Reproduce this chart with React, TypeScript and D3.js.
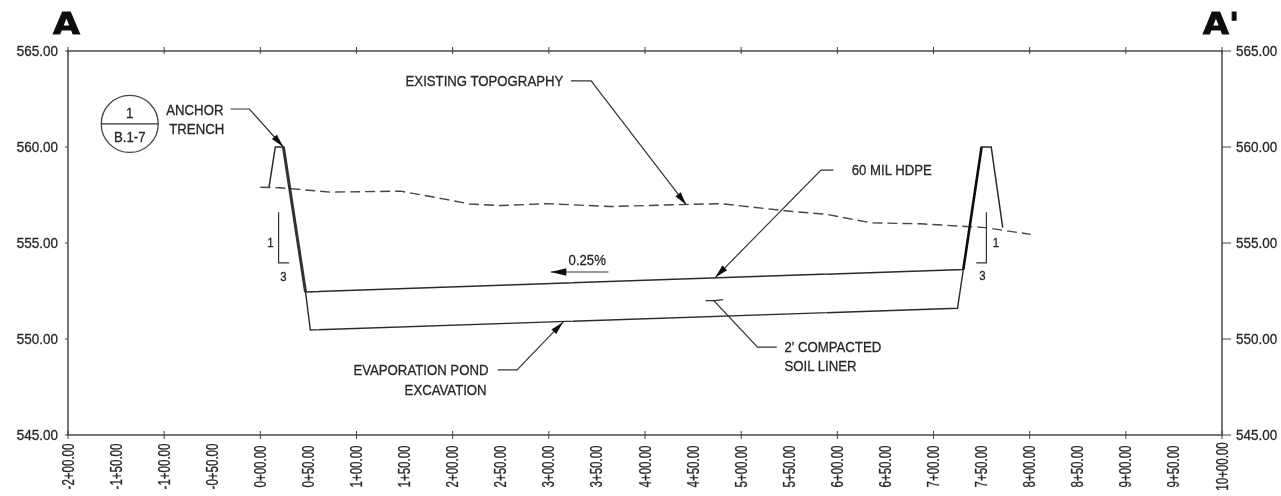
import React from "react";
import * as d3 from "d3";

const W = 1281, H = 496;
const elevTicks = [545, 550, 555, 560, 565];
const stationTicks = d3.range(-200, 1001, 50);
const frameTicks = d3.range(-200, 1001, 100);
const existingTopography: [number, number][] = [
  [0, 557.9], [20, 557.88], [73, 557.65], [146, 557.7], [190, 557.3], [218, 557.03], [250, 556.95],
  [297, 557.05], [364, 556.9], [437, 557.0], [479, 557.05], [551, 556.65], [588, 556.5],
  [635, 556.05], [687, 556.0], [754, 555.8], [801, 555.45],
];
const linerBerm: [number, number][] = [
  [9, 557.9], [15.6, 560], [24, 560], [47, 552.45], [731, 553.62], [750, 560], [760, 560], [772, 555.8],
];
const excavation: [number, number][] = [[47, 552.45], [52, 550.47], [725, 551.6], [731, 553.62]];
const heavyLeft: [number, number][] = [[24, 560], [47, 552.45]];
const heavyRight: [number, number][] = [[731, 553.62], [750, 560]];

type Leader = { pts: [number, number][]; arrow: boolean };
const leaders: Leader[] = [
  { pts: [[-31, 561.98], [-11.4, 561.98], [24, 560.0]], arrow: true },
  { pts: [[323, 563.44], [344, 563.44], [443, 556.98]], arrow: true },
  { pts: [[596, 558.8], [583, 558.8], [473, 553.2]], arrow: true },
  { pts: [[247, 548.39], [267, 548.39], [315, 550.89]], arrow: true },
  { pts: [[537, 549.58], [517, 549.58], [471, 552.03]], arrow: false },
  { pts: [[463, 552.0], [472, 552.0], [481, 552.05]], arrow: false },
];
const slopeArrow: [number, number][] = [[362, 553.49], [302, 553.49]];
const slopes = [
  { top: 556.6, bot: 553.96, x0: 19, x1: 30 },
  { top: 556.6, bot: 553.96, x0: 755, x1: 744.5 },
];
const slopeLabels = [
  { s: 10.5, e: 555.05, t: "1" },
  { s: 24, e: 553.3, t: "3" },
  { s: 765, e: 555.05, t: "1" },
  { s: 751, e: 553.35, t: "3" },
];
const labels = [
  { s: 151, e: 563.44, t: "EXISTING TOPOGRAPHY" },
  { s: -97.8, e: 561.93, t: "ANCHOR" },
  { s: -94.7, e: 560.94, t: "TRENCH" },
  { s: 615, e: 558.8, t: "60 MIL HDPE" },
  { s: 320.5, e: 554.11, t: "0.25%" },
  { s: 545, e: 549.58, t: "2' COMPACTED" },
  { s: 545, e: 548.6, t: "SOIL LINER" },
  { s: 96.8, e: 548.39, t: "EVAPORATION POND" },
  { s: 150, e: 547.34, t: "EXCAVATION" },
];
const detailBubble = { s: -135.8, e: 561.2, top: "1", bottom: "B.1-7" };

const x = d3.scaleLinear().domain([-200, 1000]).range([68, 1222]);
const y = d3.scaleLinear().domain([545, 565]).range([435, 51]);
const line = d3.line<[number, number]>().x(d => x(d[0])).y(d => y(d[1]));
const INK = "#262626";
const FONT = "'Liberation Sans',Arial,sans-serif";

function fmtStation(v: number) {
  const a = Math.abs(v);
  const h = Math.floor(a / 100);
  const r = a - h * 100;
  return `${v < 0 ? "-" : ""}${h}+${r === 0 ? "00.00" : r.toFixed(2)}`;
}

function Head({ from, to, size = 10 }: { from: [number, number]; to: [number, number]; size?: number }) {
  const p0 = [x(from[0]), y(from[1])], p1 = [x(to[0]), y(to[1])];
  const a = Math.atan2(p1[1] - p0[1], p1[0] - p0[0]);
  const b = 0.24;
  const pts = [
    p1,
    [p1[0] - size * Math.cos(a - b), p1[1] - size * Math.sin(a - b)],
    [p1[0] - size * Math.cos(a + b), p1[1] - size * Math.sin(a + b)],
  ];
  return <polygon points={pts.map(p => p.join(",")).join(" ")} fill="#111" />;
}

const textInk = { stroke: INK, strokeWidth: 0.3 };

function T({ px, py, t, sx = 0.88, size = 15, anchor = "start" }: { px: number; py: number; t: string; sx?: number; size?: number; anchor?: string }) {
  return <text transform={`translate(${px},${py}) scale(${sx},1)`} fontSize={size} textAnchor={anchor} {...textInk}>{t}</text>;
}

export default function App() {
  return (
    <svg width={W} height={H} style={{ position: "absolute", left: 0, top: 0, background: "#fff" }} fontFamily={FONT} fill={INK}>
      <defs>
        <filter id="scan" x="0" y="0" width="100%" height="100%">
          <feGaussianBlur stdDeviation="0.35" />
        </filter>
      </defs>
      <g filter="url(#scan)">
        <g fontFamily="'DejaVu Sans',sans-serif" fontWeight="bold" fontSize={31} stroke="#111" strokeWidth={1} fill="#111">
          <text transform="translate(53,34) scale(1.12,1)">A</text>
          <text transform="translate(1203,34) scale(1.08,1)">A'</text>
        </g>

        <rect x={x(-200)} y={y(565)} width={x(1000) - x(-200)} height={y(545) - y(565)} fill="none" stroke="#4a4a4a" strokeWidth={1.5} />
        {elevTicks.map(t => (
          <g key={t}>
            <line x1={x(-200) - 3} x2={x(-200)} y1={y(t)} y2={y(t)} stroke="#444" />
            <line x1={x(1000)} x2={x(1000) + 9} y1={y(t)} y2={y(t)} stroke="#444" />
            <T px={58} py={y(t) + 5} t={t.toFixed(2)} sx={0.9} anchor="end" />
            <T px={1236} py={y(t) + 5} t={t.toFixed(2)} sx={0.9} />
          </g>
        ))}
        {frameTicks.map(t => (
          <g key={t} stroke="#444">
            <line x1={x(t)} x2={x(t)} y1={y(565) - 4} y2={y(565) + 3} />
            <line x1={x(t)} x2={x(t)} y1={y(545) - 4} y2={y(545) + 4} />
          </g>
        ))}
        {stationTicks.map(t => (
          <text key={t} transform={`translate(${x(t) + 5.5},466.5) rotate(-90) scale(0.72,1)`} fontSize={16} textAnchor="middle" {...textInk}>{fmtStation(t)}</text>
        ))}

        <path d={line(existingTopography)!} fill="none" stroke="#444" strokeWidth={1.4} strokeDasharray="10 5" />
        <path d={line(linerBerm)!} fill="none" stroke="#2a2a2a" strokeWidth={1.5} />
        <path d={line(excavation)!} fill="none" stroke="#2a2a2a" strokeWidth={1.4} />
        <path d={line(heavyLeft)!} fill="none" stroke="#333" strokeWidth={3} />
        <path d={line(heavyRight)!} fill="none" stroke="#111" strokeWidth={2.6} />

        {leaders.map((l, i) => (
          <g key={i}>
            <path d={line(l.pts)!} fill="none" stroke="#333" strokeWidth={1.2} />
            {l.arrow && <Head from={l.pts[l.pts.length - 2]} to={l.pts[l.pts.length - 1]} size={14} />}
          </g>
        ))}
        <path d={line(slopeArrow)!} fill="none" stroke="#333" strokeWidth={1.2} />
        <Head from={slopeArrow[0]} to={slopeArrow[1]} size={16} />

        {slopes.map((s, i) => (
          <path key={i} d={line([[s.x0, s.top], [s.x0, s.bot], [s.x1, s.bot]])!} fill="none" stroke="#333" strokeWidth={1.2} />
        ))}
        {slopeLabels.map((l, i) => (
          <T key={i} px={x(l.s)} py={y(l.e) + 5} t={l.t} size={13} anchor="middle" />
        ))}

        <circle cx={x(detailBubble.s)} cy={y(detailBubble.e)} r={28.5} fill="none" stroke="#444" strokeWidth={1.3} />
        <line x1={x(detailBubble.s) - 28.5} x2={x(detailBubble.s) + 28.5} y1={y(detailBubble.e)} y2={y(detailBubble.e)} stroke="#333" strokeWidth={1.3} />
        <T px={x(detailBubble.s)} py={y(detailBubble.e) - 6} t={detailBubble.top} anchor="middle" />
        <T px={x(detailBubble.s)} py={y(detailBubble.e) + 18} t={detailBubble.bottom} anchor="middle" />

        {labels.map(l => (
          <T key={l.t} px={x(l.s)} py={y(l.e) + 5} t={l.t} />
        ))}
      </g>
    </svg>
  );
}
